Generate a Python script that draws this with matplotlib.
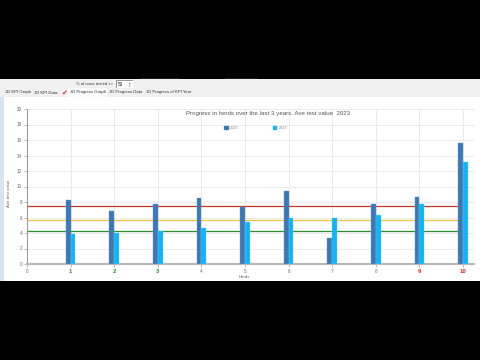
import matplotlib
matplotlib.use("Agg")
import matplotlib.pyplot as plt
from matplotlib.patches import Rectangle, Patch
import numpy as np

plt.rcParams.update({"font.family": ["Liberation Sans", "DejaVu Sans"]})

DARK = "#4077b0"
LIGHT = "#17b2f2"
GRAY = "#666666"

# data
herds = [1, 2, 3, 4, 5, 6, 7, 8, 9, 10]
y2020 = [8.2, 6.8, 7.8, 8.5, 7.3, 9.4, 3.4, 7.8, 8.6, 15.6]
y2023 = [3.9, 4.0, 4.3, 4.6, 5.4, 5.9, 5.9, 6.3, 7.8, 13.1]
tick_labels = ["0", "1", "2", "3", "4", "5", "6", "7", "8", "9", "10"]
tick_colors = [GRAY, "#2e8b2e", "#2e8b2e", "#2e8b2e", GRAY, GRAY, GRAY, GRAY,
               GRAY, "#d62728", "#d62728"]
ref_vals = [7.5, 5.7, 4.3]
ref_cols = ["#c0392b", "#f0c040", "#2e8b2e"]
tabs = ["JD KPI Graph", "JD KPI Data", "JD Progress Graph", "JD Progress Data",
        "JD Progress of KPI Year"]
tab_x = [5, 34, 70, 109, 146]

W, H = 480, 360
fig = plt.figure(figsize=(4.8, 3.6), dpi=100)
fig.patch.set_facecolor("black")


def px(x, y):
    return x / W, 1 - y / H


def rect(x0, y0, x1, y1, color):
    fig.add_artist(Rectangle((x0 / W, 1 - y1 / H), (x1 - x0) / W, (y1 - y0) / H,
                             transform=fig.transFigure, color=color, lw=0, zorder=0))


# window background
rect(0, 79, 480, 97, "#f0f0f0")
rect(0, 97, 480, 281, "white")
rect(0, 97, 4, 281, "#d6e4f0")
rect(140, 77.5, 180, 79, "#1c1c1c")
rect(225, 77.5, 258, 79, "#1c1c1c")

# toolbar
fig.text(*px(76, 84), "% of cows tested >=", fontsize=3.0, color="#333333", va="center")
rect(116, 80.5, 133, 88, "#9a9a9a")
rect(116.5, 81, 132.5, 87.5, "white")
fig.text(*px(118, 84.3), "50", fontsize=3.3, color="#222222", va="center")
fig.text(*px(129.5, 84.3), "\u25b4\n\u25be", fontsize=2.2, color="#444444",
         va="center", ha="center", linespacing=0.8)
rect(68, 88.5, 107, 96.5, "#fafafa")
for t, x in zip(tabs, tab_x):
    fig.text(*px(x, 92.5), t, fontsize=3.1, color="#333333", va="center")
fig.text(*px(61, 92.5), "\u2714", fontsize=5, color="#d03030", va="center",
         family="DejaVu Sans")

# chart
ax = fig.add_axes([27 / W, 96 / H, 447 / W, 155 / H])
ax.set_facecolor("white")
x = np.array(herds)
w = 0.11
for v, c in zip(ref_vals, ref_cols):
    ax.hlines(v, 0, 10, color=c, lw=0.9, zorder=2)
ax.bar(x - w / 2, y2020, width=w, color=DARK, edgecolor="#6a9ad0", lw=0.3, zorder=3)
ax.bar(x + w / 2, y2023, width=w, color=LIGHT, edgecolor="#60ccf8", lw=0.3, zorder=3)

ax.set_xlim(0, 10.25)
ax.set_ylim(0, 20)
ax.set_yticks(range(0, 21, 2))
ax.set_xticks(range(0, 11))
ax.set_xticklabels(tick_labels)
for lab, c in zip(ax.get_xticklabels(), tick_colors):
    lab.set_color(c)
    lab.set_fontsize(4.3 if c != GRAY else 3.3)
    if c != GRAY:
        lab.set_fontweight("bold")
ax.tick_params(axis="y", labelsize=3.3, labelcolor=GRAY, length=2, width=0.4,
               color="#888888", pad=1.5)
ax.tick_params(axis="x", length=2, width=0.4, color="#888888", pad=1.5)
ax.grid(True, color="#e8e8e8", lw=0.6, zorder=0)
for s in ["top", "right"]:
    ax.spines[s].set_visible(False)
ax.spines["left"].set_color("#777777")
ax.spines["left"].set_linewidth(0.5)
ax.spines["bottom"].set_color("#b8b8b8")
ax.spines["bottom"].set_linewidth(1.6)

ax.text(0.539, 0.974, "Progress in herds over the last 3 years. Ave test value  2023",
        transform=ax.transAxes, ha="center", va="center", fontsize=4.4, color="#555555")
ax.legend(handles=[Patch(color=DARK, label="2020"), Patch(color=LIGHT, label="2023")],
          loc="center", bbox_to_anchor=(0.512, 0.877), ncol=2, frameon=False,
          fontsize=2.8, columnspacing=9, handlelength=0.8, handleheight=0.8,
          handletextpad=0.6, labelcolor="#888888")
fig.text(*px(9, 193), "Ave test value", rotation=90, fontsize=3.2, color=GRAY,
         ha="center", va="center")
fig.text(*px(244, 277), "Herds", fontsize=3.2, color=GRAY, ha="center", va="center")

fig.savefig("out.png", dpi=100, facecolor=fig.get_facecolor())
